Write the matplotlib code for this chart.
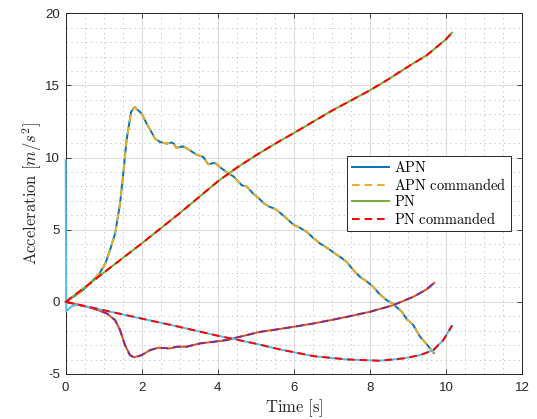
import matplotlib
matplotlib.use("Agg")
import matplotlib.pyplot as plt
from matplotlib.ticker import MultipleLocator

plt.rcParams["mathtext.fontset"] = "cm"
plt.rcParams["font.family"] = ["Liberation Sans", "DejaVu Sans"]
plt.rcParams["axes.unicode_minus"] = False
plt.rcParams["lines.scale_dashes"] = False

# APN, first acceleration component (actual == commanded)
apn1_t = [0, 0.2, 0.4, 0.64, 0.9, 1.05, 1.165, 1.3, 1.43, 1.515, 1.6, 1.72, 1.78, 1.82,
          1.87, 1.91, 2.0, 2.13, 2.25, 2.35, 2.48, 2.65, 2.79, 2.85, 2.9, 3.0, 3.09, 3.27,
          3.44, 3.62, 3.68, 3.75, 3.85, 3.93, 4.05, 4.14, 4.25, 4.41, 4.5, 4.63, 4.76,
          4.93, 5.07, 5.2, 5.35, 5.5, 5.65, 5.81, 5.99, 6.15, 6.34, 6.5, 6.69, 6.9, 7.08,
          7.25, 7.39, 7.55, 7.74, 7.9, 8.09, 8.25, 8.44, 8.61, 8.84, 8.97, 9.14, 9.32,
          9.5, 9.68]
apn1_v = [0, 0.35, 0.7, 1.27, 2.01, 2.7, 3.58, 4.74, 6.81, 8.89, 11.2, 13.16, 13.4, 13.5,
          13.35, 13.27, 13.05, 12.35, 11.8, 11.31, 11.08, 10.97, 11.04, 10.95, 10.69,
          10.72, 10.78, 10.5, 10.2, 10.04, 9.8, 9.53, 9.6, 9.63, 9.35, 9.17, 8.95, 8.7,
          8.45, 8.08, 8.0, 7.5, 7.2, 6.85, 6.6, 6.45, 6.15, 5.78, 5.35, 5.15, 4.85, 4.45,
          4.04, 3.7, 3.35, 3.05, 2.77, 2.25, 1.73, 1.45, 1.04, 0.55, 0.12, -0.15, -0.69,
          -1.2, -1.61, -2.42, -2.95, -3.55]

# APN, second acceleration component
apn2_t = [0, 0.38, 0.73, 1.08, 1.3, 1.43, 1.56, 1.69, 1.8, 2.0, 2.22, 2.44, 2.6, 2.74,
          2.92, 3.18, 3.53, 3.88, 4.23, 4.58, 5.11, 5.55, 5.99, 6.51, 7.0, 7.39, 8.0,
          8.61, 9.14, 9.49, 9.69]
apn2_v = [0, -0.23, -0.46, -0.8, -1.27, -1.96, -3.0, -3.69, -3.85, -3.69, -3.34, -3.18,
          -3.2, -3.23, -3.11, -3.11, -2.88, -2.77, -2.65, -2.42, -2.08, -1.91, -1.73,
          -1.5, -1.25, -1.04, -0.69, -0.23, 0.35, 0.86, 1.32]

# PN, first acceleration component
pn1_t = [0, 0.5, 1, 2, 3, 4, 4.5, 5, 5.5, 6, 7, 8, 8.5, 9, 9.5, 10, 10.16]
pn1_v = [0, 1.0, 2.02, 4.05, 6.15, 8.35, 9.3, 10.15, 10.95, 11.7, 13.25, 14.66, 15.45,
         16.3, 17.1, 18.2, 18.66]

# PN, second acceleration component (commanded)
pn2_t = [0, 0.4, 1, 2, 3, 4, 4.5, 5, 5.64, 6.51, 7.39, 8.26, 8.88, 9.32, 9.67, 9.93, 10.16]
pn2_v = [0, -0.23, -0.58, -1.16, -1.74, -2.35, -2.62, -2.9, -3.3, -3.76, -3.99, -4.08,
         -3.92, -3.69, -3.34, -2.65, -1.65]

# initial transient of the PN second component (actual only)
pn2_start_t = [0, 0.015, 0.08, 0.16, 0.3]
pn2_start_v = [9.8, -0.65, -0.5, -0.3, -0.2]

fig = plt.figure(figsize=(5.37, 4.19), dpi=100)
ax = fig.add_axes([0.1223, 0.1074, 0.8498, 0.8609])

lw = 1.4
dash = (0, (5.5, 3.5))
kw = dict(lw=lw, zorder=3, clip_on=False)

ax.plot(apn1_t, apn1_v, color="#0072BD", label="$\\mathrm{APN}$", **kw)
ax.plot(apn2_t, apn2_v, color="#D95319", **kw)
ax.plot(apn1_t, apn1_v, color="#EDB120", ls=dash, label="$\\mathrm{APN\\ commanded}$", **kw)
ax.plot(apn2_t, apn2_v, color="#7E2F8E", ls=dash, **kw)
ax.plot(pn1_t, pn1_v, color="#77AC30", label="$\\mathrm{PN}$", **kw)
ax.plot(pn2_start_t + pn2_t[1:], pn2_start_v + pn2_v[1:], color="#4DBEEE", **kw)
ax.plot(pn1_t, pn1_v, color="#FF0000", ls=dash, label="$\\mathrm{PN\\ commanded}$", **kw)
ax.plot(pn2_t, pn2_v, color="#FF0000", ls=dash, **kw)

ax.set_xlim(0, 12)
ax.set_ylim(-5, 20)
ax.xaxis.set_major_locator(MultipleLocator(2))
ax.xaxis.set_minor_locator(MultipleLocator(0.5))
ax.yaxis.set_major_locator(MultipleLocator(5))
ax.yaxis.set_minor_locator(MultipleLocator(1))

ax.grid(True, which="major", color="#dcdcdc", lw=0.8)
ax.grid(True, which="minor", color="#c8c8c8", lw=0.7, ls=(0, (1, 2.5)))
ax.set_axisbelow(True)

for s in ax.spines.values():
    s.set_color("#262626")
    s.set_linewidth(0.7)
ax.tick_params(which="major", direction="in", top=True, right=True, length=3.5,
               width=0.6, colors="#262626", labelsize=9.5)
ax.tick_params(which="minor", length=0)
ax.tick_params(axis="x", pad=6)
ax.tick_params(axis="y", pad=4)

ax.set_xlabel("$\\mathrm{Time\\ [s]}$", fontsize=12, color="#262626", labelpad=2)
ax.set_ylabel("$\\mathrm{Acceleration}\\ [m/s^2]$", fontsize=12, color="#262626", labelpad=1)

leg = ax.legend(loc="center right", bbox_to_anchor=(0.975, 0.5), borderaxespad=0,
                fontsize=10.4, fancybox=False, framealpha=1, edgecolor="#262626",
                handlelength=2.6, handletextpad=0.3, labelspacing=0.1, borderpad=0.3)
leg.get_frame().set_linewidth(0.7)
leg.set_zorder(5)

fig.savefig("out.png", dpi=100)
